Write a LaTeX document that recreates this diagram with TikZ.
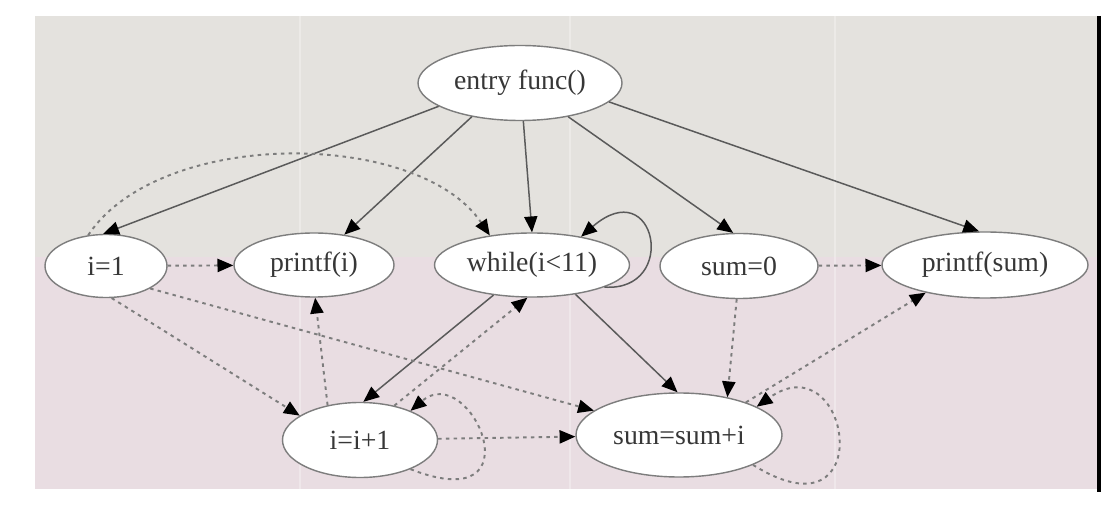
\documentclass[tikz,border=0pt]{standalone}
\usepackage{fontspec}
\setmainfont{Liberation Serif}
\usepackage{tikz}
\usepackage{xcolor}
\usetikzlibrary{shapes.geometric}
\usetikzlibrary{arrows.meta}
\definecolor{bgtop}{RGB}{228,226,222}
\definecolor{bgbottom}{RGB}{233,221,226}
\definecolor{edgegray}{RGB}{90,90,90}
\definecolor{dotgray}{RGB}{125,125,125}
\definecolor{textgray}{RGB}{55,55,55}

\begin{document}
\begin{tikzpicture}[>={Triangle[length=9pt,width=7.5pt,color=black]},
	stmt/.style={ellipse,draw=dotgray,line width=0.8pt,fill=white,inner sep=0pt,text=textgray,font=\fontsize{15.8}{18}\selectfont},
	cf/.style={draw=edgegray,line width=0.85pt},
	df/.style={draw=dotgray,line width=1.1pt,dash pattern=on 2pt off 2.4pt}]
	\useasboundingbox (0,0) rectangle (22.2,10.16);
	\fill [white] (0,0) rectangle (22.2,10.16);
	\fill [bgtop] (0.70,5.02) rectangle (21.96,9.84);
	\fill [bgbottom] (0.70,0.38) rectangle (21.96,5.02);
	\draw [white,opacity=0.3,line width=1pt] (6.0,0.38)--(6.0,9.84);
	\draw [white,opacity=0.3,line width=1pt] (11.4,0.38)--(11.4,9.84);
	\draw [white,opacity=0.3,line width=1pt] (16.7,0.38)--(16.7,9.84);
	\draw [black,line width=1.8pt] (21.98,9.84)--(21.98,0.32);
	\node [stmt,minimum width=4.08cm,minimum height=1.50cm] (entry) at (10.40,8.50){entry func()};
	\node [stmt,minimum width=2.44cm,minimum height=1.26cm] (iinit) at (2.12,4.84){i=1};
	\node [stmt,minimum width=3.20cm,minimum height=1.28cm] (printi) at (6.28,4.86){printf(i)};
	\node [stmt,minimum width=3.90cm,minimum height=1.28cm] (whilei) at (10.64,4.86){while(i<11)};
	\node [stmt,minimum width=3.16cm,minimum height=1.30cm] (suminit) at (14.78,4.84){sum=0};
	\node [stmt,minimum width=4.12cm,minimum height=1.32cm] (printsum) at (19.70,4.86){printf(sum)};
	\node [stmt,minimum width=3.10cm,minimum height=1.50cm] (iinc) at (7.20,1.36){i=i+1};
	\node [stmt,minimum width=4.12cm,minimum height=1.68cm] (sumadd) at (13.58,1.46){sum=sum+i};
	\draw [cf,->] (entry.196) -- (iinit.95);
	\draw [cf,->] (entry.215) -- (printi.45);
	\draw [cf,->] (entry.275) -- (whilei.90);
	\draw [cf,->] (entry.325) -- (suminit.100);
	\draw [cf,->] (entry.348) -- (printsum.100);
	\draw [cf,->] (whilei.343) .. controls +(1.5,-0.1) and +(1.5,1.3) .. (whilei.30);
	\draw [cf,->] (whilei.218) -- (iinc.85);
	\draw [cf,->] (whilei.326) -- (sumadd.92);
	\draw [df,->] (iinit) -- (printi);
	\draw [df,->] (iinit.120) .. controls +(1.44,2.16) and +(-1.42,2.12) .. (whilei.145);
	\draw [df,->] (iinit.280) -- (iinc.158);
	\draw [df,->] (iinit.333) -- (sumadd.164);
	\draw [df,->] (iinc.133) -- (printi.272);
	\draw [df,->] (iinc.45) -- (whilei.262);
	\draw [df,->] (iinc.330) .. controls +(2.6,-1.02) and +(1.2,1.02) .. (iinc.30);
	\draw [df,->] (iinc) -- (sumadd);
	\draw [df,->] (suminit.266) -- (sumadd.38);
	\draw [df,->] (suminit) -- (printsum);
	\draw [df,->] (sumadd.338) .. controls +(2.56,-1.6) and +(1.88,1.34) .. (sumadd.20);
	\draw [df,->] (sumadd.26) -- (printsum.205);
\end{tikzpicture}
\end{document}
